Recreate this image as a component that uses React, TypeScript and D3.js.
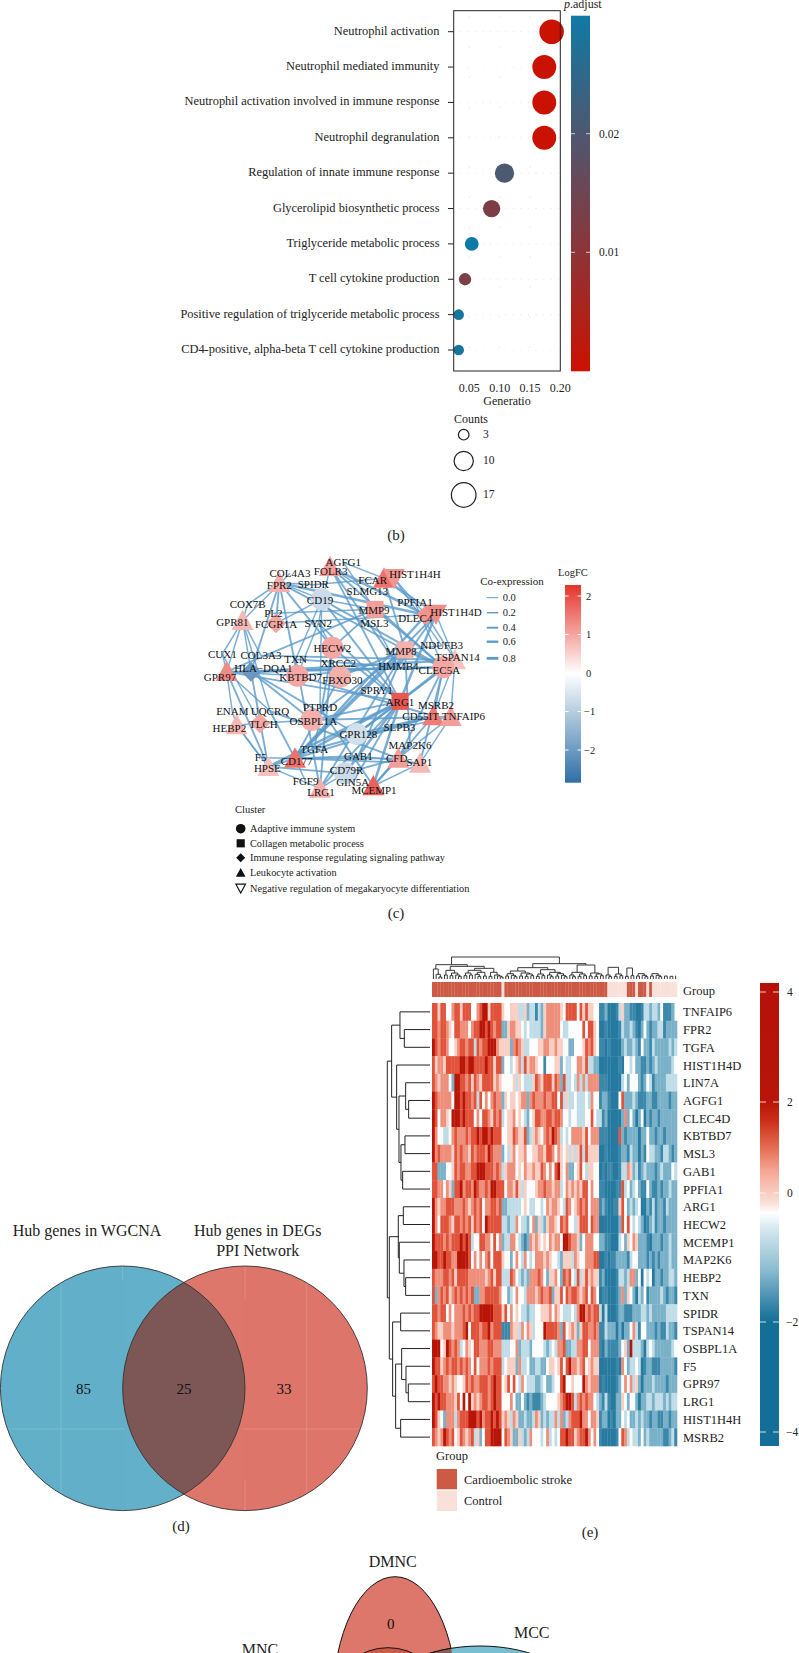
import React from "react";
import * as d3 from "d3";

const SERIF = "'Liberation Serif', serif";
const INK = "#222";

// ---------- (b) GO dot plot ----------
const goTerms = ["Neutrophil activation","Neutrophil mediated immunity","Neutrophil activation involved in immune response","Neutrophil degranulation","Regulation of innate immune response","Glycerolipid biosynthetic process","Triglyceride metabolic process","T cell cytokine production","Positive regulation of triglyceride metabolic process","CD4-positive, alpha-beta T cell cytokine production"];
const goRatio = [0.1857,0.1736,0.1736,0.1736,0.108,0.0868,0.054,0.043,0.0325,0.0325];
const goCounts = [17,16,16,16,10,8,5,4,3,3];
const goPadj = [0.0004,0.0004,0.0004,0.0004,0.0205,0.0125,0.03,0.013,0.0285,0.0285];
const goXTicks = [0.05,0.10,0.15,0.20];
const goPTicks = [0.01,0.02];
const goCountLegend = [3,10,17];

// ---------- (c) network: label, labelX, labelY, nodeX, nodeY, shape, logFC (layout units) ----------
type Nd = [string,number,number,number,number,string,number];
const netNodes: Nd[] = [
["AGFG1",490,157,490,157,"n",0],["FOLR3",452,185,450,170,"t",1.1],["FCAR",578,212,612,205,"t",1.6],["HIST1H4H",705,193,642,205,"v",1.2],
["COL4A3",330,190,330,190,"n",0],["FPR2",298,226,298,218,"t",0.9],["SPIDR",400,224,400,224,"n",0],["SLMG13",562,245,562,245,"n",0],
["CD19",420,270,425,268,"c",-0.7],["MMP9",582,300,585,298,"s",1.1],["COX7B",203,283,203,283,"n",0],["GPR81",157,338,188,332,"t",0.8],
["PL2",280,310,280,310,"n",0],["FCGR1A",288,342,288,340,"d",1.0],["SYN2",415,340,415,340,"n",0],["PPFIA1",705,278,705,278,"n",0],
["DLEC4",706,324,738,315,"d",1.2],["HIST1H4D",828,308,768,312,"v",1.3],["MSL3",583,340,583,340,"n",0],["MMP8",663,423,675,420,"s",0.9],
["NDUFB3",785,407,785,407,"n",0],["TSPAN14",832,443,825,450,"t",0.7],["CLEC5A",778,482,790,472,"c",1.0],["HMMB4",655,470,655,470,"n",0],
["HECW2",457,415,457,413,"c",1.0],["XRCC2",475,461,475,461,"n",0],["CUX1",127,432,127,432,"n",0],["COL3A3",243,437,243,437,"n",0],
["TXN",347,448,347,448,"n",0],["HLA−DQA1",250,475,213,485,"d",-2.0],["GPR97",120,502,140,485,"t",1.3],["KBTBD7",362,503,352,497,"c",1.0],
["FBXO30",487,510,480,500,"c",0.9],["SPRY1",590,540,590,540,"n",0],["ARG1",660,578,660,574,"s",1.9],["MSRB2",768,585,768,585,"n",0],
["CD55IT",722,618,760,618,"t",1.5],["TNFAIP6",850,620,812,620,"t",1.1],["ENAM",157,605,157,605,"n",0],["HEBP2",148,655,170,645,"t",0.8],
["UQCRQ",270,603,270,603,"n",0],["TLCH",250,643,240,640,"d",1.0],["PTPRD",420,593,420,593,"n",0],["OSBPL1A",400,635,395,630,"c",0.9],
["GPR128",535,672,530,672,"c",-0.6],["SLPB3",658,653,658,653,"n",0],["MAP2K6",690,707,690,707,"n",0],["CFD",650,745,655,745,"t",1.1],
["SAP1",718,757,720,760,"t",0.8],["TGFA",403,717,403,717,"n",0],["CD177",350,755,345,745,"t",1.6],["F5",242,743,242,743,"n",0],
["HPSE",262,775,265,770,"t",0.7],["GAB1",535,738,535,738,"n",0],["CD79R",500,780,495,790,"c",-0.7],["GIN5A",518,818,518,818,"n",0],
["FGF9",377,815,377,815,"n",0],["LRG1",423,848,420,835,"t",0.9],["MCEMP1",582,842,580,828,"t",1.8],
];
const edgesThin = "AGFG1-FCAR AGFG1-MMP9 FOLR3-SYN2 FOLR3-SLMG13 FCAR-PPFIA1 HIST1H4H-DLEC4 HIST1H4H-NDUFB3 COL4A3-GPR81 FPR2-COX7B FPR2-SPIDR FPR2-CD19 SPIDR-FCAR CD19-MMP9 COX7B-GPR97 GPR81-HLA GPR81-CUX1 PL2-MMP9 FCGR1A-CD19 FCGR1A-HIST1H4D SYN2-HECW2 SYN2-KBTBD7 PPFIA1-CLEC5A DLEC4-TSPAN14 HIST1H4D-TSPAN14 NDUFB3-MMP8 CUX1-GPR97 CUX1-TLCH COL3A3-GPR81 TXN-CD19 GPR97-KBTBD7 GPR97-UQCRQ ENAM-HEBP2 ENAM-GPR97 HEBP2-HPSE HEBP2-TLCH UQCRQ-GPR81 TLCH-OSBPL1A PTPRD-CD19 F5-HEBP2 F5-CD177 HPSE-LRG1 FGF9-CD177 LRG1-CD79R GAB1-SAP1 SAP1-TNFAIP6 CFD-TNFAIP6 MAP2K6-MCEMP1 MCEMP1-SAP1 SLPB3-TNFAIP6 MSRB2-CLEC5A CD55IT-TSPAN14 TNFAIP6-TSPAN14 CD55IT-MSRB2 MSL3-HMMB4".split(" ");
const edgesMid = "FPR2-FCGR1A FPR2-MMP8 FPR2-KBTBD7 FPR2-HECW2 FPR2-HLA FOLR3-HMMB4 FOLR3-CLEC5A FOLR3-ARG1 FCAR-HIST1H4D FCAR-MMP8 MMP9-CLEC5A MMP9-HECW2 MMP9-GPR97 HIST1H4D-HMMB4 HIST1H4D-CD177 CD19-ARG1 CD19-CLEC5A SYN2-ARG1 HECW2-ARG1 HECW2-LRG1 HECW2-TGFA KBTBD7-CD55IT KBTBD7-HMMB4 FBXO30-MMP8 FBXO30-CD177 GPR97-CLEC5A GPR97-HPSE GPR97-ARG1 HLA-OSBPL1A HLA-HPSE HLA-GPR128 TXN-HMMB4 TXN-LRG1 UQCRQ-CFD UQCRQ-CD177 OSBPL1A-ARG1 OSBPL1A-MMP8 OSBPL1A-TNFAIP6 PTPRD-MCEMP1 GPR128-TSPAN14 GPR128-CD55IT CFD-CLEC5A SAP1-CLEC5A MAP2K6-MMP8 CD177-CFD CD177-SAP1 CD177-GAB1 HPSE-CD55IT LRG1-MMP8 LRG1-ARG1 GIN5A-ARG1 CD79R-CFD CD79R-HPSE TGFA-CD55IT GAB1-MMP8 MCEMP1-CD55IT MCEMP1-CFD TSPAN14-COL3A3".split(" ");
const edgesThick = "HLA-CLEC5A CD177-ARG1 HPSE-ARG1 CD177-MMP8 CD177-DLEC4 MMP8-CLEC5A FPR2-DLEC4 ARG1-CLEC5A HIST1H4D-ARG1 FOLR3-DLEC4 MCEMP1-ARG1 CD79R-ARG1 GPR128-ARG1 HLA-TSPAN14".split(" ");
const coexprTicks = [0,0.2,0.4,0.6,0.8];
const logfcTicks = [2,1,0,-1,-2];
const clusterNames = ["Adaptive immune system","Collagen metabolic process","Immune response regulating signaling pathway","Leukocyte activation","Negative regulation of megakaryocyte differentiation"];
const clusterShapes = ["c","s","d","t","v"];

// ---------- (d) venn ----------
const vennCounts = [85,25,33];

// ---------- (e) heatmap ----------
const geneNames = ["TNFAIP6","FPR2","TGFA","HIST1H4D","LIN7A","AGFG1","CLEC4D","KBTBD7","MSL3","GAB1","PPFIA1","ARG1","HECW2","MCEMP1","MAP2K6","HEBP2","TXN","SPIDR","TSPAN14","OSBPL1A","F5","GPR97","LRG1","HIST1H4H","MSRB2"];
// one digit per sample: 0 = darkest blue ... 5 = white ... 9 = darkest red
const heatRows = [
"8868855788688855789968888 6556664463442436777 7765888858686655 2231112463 32 2 1 1 2 4 4 3 4 4 3 5 2 2 2 3",
"8878876588777578899898788 3367766545444436777 7754455555 8 5 8 8 6 5 1121111243 3 4 3 2 1 3 5 3 2 3 3 4 4 2 3 3 3 3",
"9878875567887884878899976 6663787644555667766 7665533555 6 8 7 8 6 5 2212111134 3 3 4 3 2 5 3 3 2 4 3 3 3 3 3 4 3 4",
"8677688888998998888988688 3554567486776552555 6635 4 4 5 5 7 7 6 8 4 4 3 3 1111111215 5 4 5 3 3 2 2 3 2 3 4 3 3 3 3 3 4 5",
"8767775399887868768888676 5555646544468 7 6 8 8 8 6 8 7 3 8 4 4 5 4 7 4 7 4 7 7 7 7 2221111145 3 5 5 5 3 2 3 5 4 2 3 3 3 3 4 4 4 4",
"9877777599898878485757877 3656656773787778778 8584644544 4 5 4 7 5 5 2332111583 3 3 4 3 2 2 2 3 3 2 2 3 3 3 3 2 3 3",
"9857765999898885758876878 4566756543568877887 8875545544 4 5 5 8 5 4 4231111137 3 5 3 1 3 5 1 3 2 3 3 2 3 3 3 3 3 3",
"9755445787778788989989888 5566876683467657879 8745457777 6 8 5 7 7 7 2221111832 3 3 3 3 1 3 3 5 3 3 2 3 3 2 3 3 3 3",
"9787777687877687888798777 3546756675566776887 5765646468 4 8 6 6 6 6 1121111233 2 4 3 3 1 3 2 5 4 4 3 3 2 4 4 3 2 3",
"8833355687887788999888787 4677756576676687575 8965733568 5 4 6 6 5 5 1212211244 7 6 3 4 2 3 4 3 3 3 2 3 4 3 3 3 5 4",
"8877576388978879877879988 8577686465556778776 7745767676 8 8 5 7 5 5 2211112284 5 3 4 5 3 2 2 5 3 2 2 3 2 3 3 4 3 3",
"9767788877787678785778878 3344444565445545767 7654875678 7 8 5 7 7 7 2321122685 3 4 3 4 5 1 1 3 2 4 2 3 3 2 4 3 3 3",
"9758887688787868785988888 4434475443573643677 6587855468 8 8 5 8 7 7 1111111385 8 5 4 5 4 3 1 2 3 4 2 3 3 2 3 3 3 3",
"9888787888989845588775857 3447754323767656576 7759987763 5 7 7 7 5 5 3322111453 6 5 7 6 3 3 3 2 1 3 3 3 2 3 3 4 3 3",
"9988988779999857575785888 6553575475457776765 5436664765 5 7 7 7 8 8 1121223333 2 4 5 5 3 3 3 2 3 2 3 2 3 3 3 4 3 3",
"8777887868888777777678688 4448754343777875366 7538785484 6 8 6 7 6 6 2311112443 4 7 7 3 5 1 5 4 5 1 3 3 2 3 3 4 4 3",
"8378786787878783377888887 5534575547776787783 6685878876 7 8 5 8 7 5 1221112373 6 5 3 1 4 3 5 2 3 3 3 3 4 3 2 3 3 2",
"8878857577787878899999888 6857565443445566675 7654445479 9 7 8 7 8 8 4141112332 2 2 3 3 3 4 4 3 4 3 3 3 3 3 4 4 4 4",
"8766777677789588878897888 2227664757645559888 8738567636 8 8 7 7 8 7 2243331313 3 5 7 4 2 5 5 3 3 3 2 3 2 2 4 3 3 2",
"9995698787457658877788777 4445573444355554345 4778334477 8 8 5 7 7 7 2132222356 3 9 4 4 4 3 1 4 5 4 3 3 3 3 3 3 4 5",
"9886787887878758577787888 4566637445334433566 5685897767 8 5 6 7 6 6 1111112175 3 4 4 5 4 1 2 3 3 2 2 2 3 3 3 3 3 2",
"8988776765568787788878988 5685854754443345334 5589556555 9 7 6 7 7 7 1211112357 5 7 4 6 3 1 3 3 3 4 3 3 3 3 2 3 3 3",
"9898877768595967678878988 5557533532322234555 5678998478 7 8 7 7 5 4 3242113365 3 5 5 3 1 3 3 4 4 3 4 4 4 3 4 3 4 4",
"9865377747888999897889898 6764763343347634344 7473478889 7 7 5 7 7 6 2331213354 5 3 3 4 3 4 3 3 2 3 3 2 2 3 3 2 3 3",
"8767987856876784635889999 5876336434755545745 4588988678 8 9 7 5 7 5 2111112587 4 5 4 4 3 5 3 4 3 3 3 3 3 2 2 3 4 2",
].map(s => s.replace(/\s/g, ""));
const heatLevels = [-3,-2.5,-2,-1.3,-0.6,0,0.5,1,1.6,2.5];
const groupFlags = "CCCCCCCCCCCCCCCCCCCCCCCCCKCCCCCCCCCCCCCCCCCCCCCCCCCCCCCCCCCCCCCKKKKKKKCCCKCCCKCKKKKKKKKKKK".slice(0,88);
const heatTicks = [4,2,0,-2,-4];
const groupNames = ["Cardioembolic stroke","Control"];
const rowTree = "(((. (. . 77) 90)(. ((. (. . 64) 73)((. . 75)(. . 82) 87) 93) 100) 115)(((. . 80)(. (. (. . 73) 78) 92) 95)((. . 88)((. (. (. . 65) 72) 85)(. . 88) 103) 112) 122) 128)";
const S2 = "(. . 9)", S3 = "(. (. . 7) 12)", S4 = "((. . 8)(. . 10) 15)", S5 = "((. . 9)(. (. . 7) 11) 16)";
const colTree = `(((( . (. (. . 6) 14) 30)(((. . 12)((. . 10)(. (. . 8) 12) 18) 26)((((. . 10)(. . 12) 18)((. (. . 8) 14)(. . 9) 20) 26)((. . 8)(. (. (. . 6) 9) 12) 20) 32) 38) 43)(((${S5}(${S2}${S4} 18) 24)(${S4}(${S3}${S5} 20) 28) 34)((${S3}${S4} 20)(${S2}${S4} 18) 42) 46) 66)((${S3}${S4} 35)(((. . 8)(. . 10) 33)(${S5}(${S5}(${S2}${S4} 18) 22) 30) 43) 50) 75) 126)`;

// ---------- bottom venn ----------
const bottomLabels = ["DMNC","MCC","MNC"];
const bottomCount = 0;

type T = { h: number; children?: T[] };
function parseTree(src: string): T {
  const toks = src.match(/\(|\)|\.|\d+/g) as string[];
  let i = 0;
  const node = (): T => {
    const t = toks[i++];
    if (t === ".") return { h: 0 };
    const kids: T[] = [];
    while (toks[i] === "(" || toks[i] === ".") kids.push(node());
    const h = +toks[i++];
    i++;
    return { h, children: kids };
  };
  return node();
}
function treeSegments(src: string, leafPos: (i: number) => number, hPos: (h: number) => number, horizontal: boolean) {
  const root = d3.hierarchy<T>(parseTree(src));
  let k = 0;
  const path = d3.path();
  root.eachAfter((n: any) => {
    if (!n.children) { n.p = leafPos(k++); return; }
    n.p = d3.mean(n.children, (c: any) => c.p);
    const y = hPos(n.data.h);
    n.children.forEach((c: any, idx: number) => {
      const yc = hPos(c.data.h);
      if (horizontal) { path.moveTo(yc, c.p); path.lineTo(y, c.p); }
      else { path.moveTo(c.p, yc); path.lineTo(c.p, y); }
    });
    const [a, b] = [n.children[0].p, n.children[n.children.length - 1].p];
    if (horizontal) { path.moveTo(y, a); path.lineTo(y, b); }
    else { path.moveTo(a, y); path.lineTo(b, y); }
  });
  return path.toString();
}

const Txt = (p: any) => <text fontFamily={SERIF} fill={INK} {...p} />;

function Glyph({ shape, x, y, r, fill, stroke, sw }: any) {
  const common = { fill, stroke: stroke || "none", strokeWidth: sw || 0 };
  if (shape === "c") return <circle cx={x} cy={y} r={r} {...common} />;
  if (shape === "s") return <rect x={x - r * 0.85} y={y - r * 0.85} width={r * 1.7} height={r * 1.7} {...common} />;
  if (shape === "d") return <path d={`M${x},${y - r}L${x + r},${y}L${x},${y + r}L${x - r},${y}Z`} {...common} />;
  if (shape === "t") return <path d={`M${x},${y - r}L${x + r},${y + r * 0.85}L${x - r},${y + r * 0.85}Z`} {...common} />;
  if (shape === "v") return <path d={`M${x - r},${y - r * 0.85}L${x + r},${y - r * 0.85}L${x},${y + r}Z`} {...common} />;
  return null;
}

export default function App() {
  // dot plot scales
  const gx = d3.scaleLinear().domain([0.05, 0.2]).range([469.3, 560.3]);
  const gy = d3.scalePoint<string>().domain(goTerms).range([31.7, 350]);
  const gr = d3.scalePow().exponent(0.4).domain([3, 17]).range([5.3, 12.3]);
  const gc = d3.scaleLinear<string>().domain([0, 0.03]).range(["#cc1100", "#0f7aa6"]);
  const gpY = d3.scaleLinear().domain([0.01, 0.02]).range([252.3, 133.7]);
  const gridX = d3.range(0.035, 0.2, 0.0125);
  const gridYs = goTerms.map(t => gy(t) as number);

  // network scales
  const nx = d3.scaleLinear().domain([0, 900]).range([180, 480]);
  const ny = d3.scaleLinear().domain([0, 900]).range([510, 810]);
  const fcY = d3.scaleLinear().domain([2, -2]).range([596, 750]);
  const fcC = d3.scaleLinear<string>().domain([-2.8, 0, 2.3]).range(["#2e6fa7", "#ffffff", "#e5342b"]);
  const ew = d3.scaleLinear().domain([0, 0.8]).range([1, 2.8]);
  const byName = new Map(netNodes.map(n => [n[0].split("−")[0], n]));
  const edgeSets: [string[], number][] = [[edgesThin, 0.2], [edgesMid, 0.4], [edgesThick, 0.7]];

  // heatmap scales
  const hx = d3.scaleBand<number>().domain(d3.range(88)).range([432, 677]);
  const hy = d3.scaleBand<string>().domain(geneNames).range([1003, 1446]);
  const hc = d3.scaleLinear<string>().domain([-3, -2, -1.3, -0.6, 0, 0.5, 1, 1.6, 2.5])
    .range(["#0f6a92", "#3c88ab", "#79b1c9", "#bfdce7", "#fdfdfd", "#f9cfc4", "#ee8f7b", "#e0523a", "#b81508"]);
  const hlY = d3.scaleLinear().domain([4, 2, 0, -2, -4]).range([992, 1102, 1193, 1322, 1432]);
  const rowD = treeSegments(rowTree, i => (hy(geneNames[i]) as number) + hy.bandwidth() / 2, d3.scaleLinear().domain([0, 128]).range([430, 387.3]), true);
  const colD = treeSegments(colTree, i => (hx(i) as number) + hx.bandwidth() / 2, d3.scaleLinear().domain([0, 126]).range([979, 937]), false);

  const vennX = [122.7, 245];
  const vennY = 1388.3, vennR = 122.3;

  return (
    <svg width={799} height={1653} viewBox="0 0 799 1653" style={{ position: "absolute", left: 0, top: 0, background: "#fff" }}>
      <defs>
        <linearGradient id="gp" x1="0" y1="1" x2="0" y2="0">
          <stop offset="0" stopColor={gc(0)} /><stop offset="1" stopColor={gc(0.03)} />
        </linearGradient>
        <linearGradient id="fc" x1="0" y1="1" x2="0" y2="0">
          <stop offset="0" stopColor="#2e6fa7" />
          <stop offset={(782.7 - 673.5) / 197.7} stopColor="#ffffff" />
          <stop offset="1" stopColor="#e5342b" />
        </linearGradient>
        <linearGradient id="hl" x1="0" y1="0" x2="0" y2="1">
          {[[983,"#b51108"],[1102,"#b81508"],[1120,"#cc2c17"],[1147,"#e56a50"],[1170,"#f3a491"],[1203,"#fbe0d8"],[1213,"#ffffff"],[1228,"#d6e9f0"],[1270,"#8bbbd0"],[1303,"#3c88ab"],[1322,"#136f97"],[1446,"#136f97"]].map(([y, c]: any) =>
            <stop key={y} offset={(y - 983) / 463} stopColor={c} />)}
        </linearGradient>
        <clipPath id="vc1"><circle cx={vennX[0]} cy={vennY} r={vennR} /></clipPath>
        <clipPath id="vc2"><circle cx={vennX[1]} cy={vennY} r={vennR} /></clipPath>
      </defs>

      {/* (b) dot plot */}
      <rect x={453.7} y={10.7} width={106.6} height={360.3} fill="#fff" />
      {gridYs.map(y => gridX.map(x => <circle key={y + "_" + x} cx={gx(x)} cy={y + 0} r={0.6} fill="#e8e8e8" />))}
      {gx.ticks(3).concat(goXTicks).map((t, i) => d3.range(12).map(j => <circle key={i + "g" + j} cx={gx(t)} cy={17 + j * 30} r={0.6} fill="#e8e8e8" />))}
      {goTerms.map((t, i) => (
        <g key={t}>
          <circle cx={gx(goRatio[i])} cy={gy(t)} r={gr(goCounts[i])} fill={gc(goPadj[i])} />
          <line x1={448} x2={453.7} y1={gy(t)} y2={gy(t)} stroke={INK} strokeWidth={1} />
          <Txt x={439.5} y={(gy(t) as number) + 3} textAnchor="end" fontSize={12.4}>{t}</Txt>
        </g>
      ))}
      <rect x={453.7} y={10.7} width={106.6} height={360.3} fill="none" stroke={INK} strokeWidth={1} />
      {goXTicks.map(t => <Txt key={t} x={gx(t)} y={392} textAnchor="middle" fontSize={12}>{t.toFixed(2)}</Txt>)}
      <Txt x={507} y={405} textAnchor="middle" fontSize={12}>Generatio</Txt>
      <Txt x={454} y={423} fontSize={12}>Counts</Txt>
      {goCountLegend.map((c, i) => {
        const y = [434.7, 461, 495][i];
        return <g key={c}>
          <circle cx={463.7} cy={y} r={gr(c)} fill="none" stroke={INK} strokeWidth={1.2} />
          <Txt x={483} y={y + 3} fontSize={11.5}>{c}</Txt>
        </g>;
      })}
      <Txt x={564} y={8} fontSize={12}><tspan fontStyle="italic">p</tspan>.adjust</Txt>
      <rect x={571} y={15.7} width={19} height={355.6} fill="url(#gp)" />
      {goPTicks.map(t => <g key={t}>
        <line x1={571} x2={575} y1={gpY(t)} y2={gpY(t)} stroke="#fff" strokeOpacity={0.7} />
        <line x1={586} x2={590} y1={gpY(t)} y2={gpY(t)} stroke="#fff" strokeOpacity={0.7} />
        <Txt x={599} y={gpY(t) + 4} fontSize={11.5}>{t.toFixed(2)}</Txt>
      </g>)}
      <Txt x={396} y={540} textAnchor="middle" fontSize={15}>(b)</Txt>

      {/* (c) network */}
      {edgeSets.map(([list, w]) => list.map(e => {
        const [a, b] = e.split("-").map(k => byName.get(k) as Nd);
        if (!a || !b) return null;
        return <line key={e} x1={nx(a[3])} y1={ny(a[4])} x2={nx(b[3])} y2={ny(b[4])} stroke="#5a9ac9" strokeOpacity={0.8} strokeWidth={ew(w)} />;
      }))}
      {netNodes.map(n => <Glyph key={n[0]} shape={n[5]} x={nx(n[3])} y={ny(n[4])} r={n[5] === "d" ? 10 : n[5] === "s" ? 10 : 11} fill={fcC(n[6])} />)}
      {netNodes.map(n => <text key={n[0]} x={nx(n[1])} y={ny(n[2]) + 3.5} textAnchor="middle" fontFamily={SERIF} fontSize={11} fill="#111">{n[0]}</text>)}
      <Txt x={512} y={585} textAnchor="middle" fontSize={11}>Co-expression</Txt>
      {coexprTicks.map((t, i) => {
        const y = [597.7, 612.7, 627.7, 641.7, 658.3][i];
        return <g key={t}>
          <line x1={486.7} x2={498.3} y1={y} y2={y} stroke="#5a9ac9" strokeWidth={ew(t)} />
          <Txt x={502.7} y={y + 3.5} fontSize={10.5}>{t.toFixed(1)}</Txt>
        </g>;
      })}
      <Txt x={558} y={575.7} fontSize={10.5}>LogFC</Txt>
      <rect x={565} y={585} width={16} height={197.7} fill="url(#fc)" />
      {logfcTicks.map(t => <g key={t}>
        <line x1={565} x2={568.5} y1={fcY(t)} y2={fcY(t)} stroke="#fff" />
        <line x1={577.5} x2={581} y1={fcY(t)} y2={fcY(t)} stroke="#fff" />
        <Txt x={t < 0 ? 584 : 586} y={fcY(t) + 3.5} fontSize={10.5}>{t < 0 ? "−" + -t : t}</Txt>
      </g>)}
      <Txt x={235} y={813} fontSize={10.5}>Cluster</Txt>
      {clusterNames.map((c, i) => {
        const y = [828.7, 843.3, 857.7, 872.7, 888.3][i];
        return <g key={c}>
          <Glyph shape={clusterShapes[i]} x={240.7} y={y} r={i === 2 ? 4.5 : 4.8} fill={i === 4 ? "#fff" : "#111"} stroke={i === 4 ? "#111" : undefined} sw={1.2} />
          <Txt x={250} y={y + 3.5} fontSize={10.3}>{c}</Txt>
        </g>;
      })}
      <Txt x={396} y={918} textAnchor="middle" fontSize={15}>(c)</Txt>

      {/* (d) venn */}
      <Txt x={87} y={1236} textAnchor="middle" fontSize={16}>Hub genes in WGCNA</Txt>
      <Txt x={257.7} y={1236} textAnchor="middle" fontSize={16}>Hub genes in DEGs</Txt>
      <Txt x={257.7} y={1256} textAnchor="middle" fontSize={16}>PPI Network</Txt>
      <circle cx={vennX[0]} cy={vennY} r={vennR} fill="#62b0c9" />
      <circle cx={vennX[1]} cy={vennY} r={vennR} fill="#dd766b" />
      <g clipPath="url(#vc1)"><circle cx={vennX[1]} cy={vennY} r={vennR} fill="#7d5755" /></g>
      <g clipPath="url(#vc1)" stroke="#8cc5d8" strokeWidth={0.8} opacity={0.7}>
        <line x1={61} x2={61} y1={1260} y2={1520} /><line x1={0} x2={125} y1={1429} y2={1429} /><line x1={122.7} x2={122.7} y1={1260} y2={1280} />
      </g>
      <g clipPath="url(#vc2)" stroke="#ea9a90" strokeWidth={0.8} opacity={0.7}>
        <line x1={245} x2={245} y1={1260} y2={1300} /><line x1={245} x2={245} y1={1480} y2={1520} />
        <line x1={306.7} x2={306.7} y1={1260} y2={1520} /><line x1={243} x2={370} y1={1429} y2={1429} />
      </g>
      <circle cx={vennX[0]} cy={vennY} r={vennR} fill="none" stroke="#333" strokeWidth={0.9} />
      <circle cx={vennX[1]} cy={vennY} r={vennR} fill="none" stroke="#333" strokeWidth={0.9} />
      {vennCounts.map((c, i) => <text key={c} x={[83.5, 184, 284][i]} y={1394} textAnchor="middle" fontFamily={SERIF} fontSize={15} fill="#111">{c}</text>)}
      <Txt x={181} y={1531} textAnchor="middle" fontSize={15}>(d)</Txt>

      {/* (e) heatmap */}
      <path d={colD} fill="none" stroke={INK} strokeWidth={0.9} />
      <path d={rowD} fill="none" stroke={INK} strokeWidth={1} />
      {d3.range(88).map(i => <rect key={i} x={hx(i)} y={982} width={hx.bandwidth() + 0.2} height={15}
        fill={groupFlags[i] === "C" ? "#cd5a45" : "#f9e0d9"} />)}
      <Txt x={683} y={995} fontSize={12.5}>Group</Txt>
      {heatRows.map((row, r) => row.split("").map((d, c) => (
        <rect key={r + "-" + c} x={hx(c)} y={hy(geneNames[r])} width={hx.bandwidth() + 0.3} height={hy.bandwidth() + 0.3}
          fill={hc(heatLevels[+d])} />
      )))}
      {geneNames.map(g => <Txt key={g} x={683} y={(hy(g) as number) + hy.bandwidth() / 2 + 4.5} fontSize={12.5}>{g}</Txt>)}
      <rect x={760} y={983} width={19} height={463} fill="url(#hl)" />
      {heatTicks.map(t => <g key={t}>
        <line x1={760} x2={766} y1={hlY(t)} y2={hlY(t)} stroke="#fff" strokeOpacity={0.8} />
        <line x1={773} x2={779} y1={hlY(t)} y2={hlY(t)} stroke="#fff" strokeOpacity={0.8} />
        <Txt x={t < 0 ? 786 : 787} y={hlY(t) + 4} fontSize={11.5}>{t < 0 ? "−" + -t : t}</Txt>
      </g>)}
      <Txt x={436} y={1460} fontSize={12.5}>Group</Txt>
      {groupNames.map((g, i) => <g key={g}>
        <rect x={436.7} y={[1469, 1490.7][i]} width={20.3} height={20.3} fill={i === 0 ? "#cd5a45" : "#f9e0d9"} />
        <Txt x={464} y={[1484, 1505][i]} fontSize={12.5}>{g}</Txt>
      </g>)}
      <Txt x={590} y={1537} textAnchor="middle" fontSize={15}>(e)</Txt>

      {/* bottom venn (cut by the page edge) */}
      <ellipse cx={395} cy={1701.7} rx={62} ry={125} fill="#dd766b" stroke="#111" strokeWidth={1} />
      <ellipse cx={480} cy={1700} rx={100} ry={54} fill="#77c0d2" stroke="#111" strokeWidth={1} />
      <clipPath id="bv"><ellipse cx={395} cy={1701.7} rx={62} ry={125} /></clipPath>
      <g clipPath="url(#bv)"><ellipse cx={480} cy={1700} rx={100} ry={54} fill="#8a5c5c" stroke="#111" /></g>
      <ellipse cx={388} cy={1689.7} rx={50} ry={42} fill="#ce5a4a" stroke="#111" strokeWidth={1} />
      <text x={390.7} y={1629} textAnchor="middle" fontFamily={SERIF} fontSize={15} fill="#111">{bottomCount}</text>
      <Txt x={392.7} y={1566.7} textAnchor="middle" fontSize={16}>{bottomLabels[0]}</Txt>
      <Txt x={531.7} y={1637.7} textAnchor="middle" fontSize={16}>{bottomLabels[1]}</Txt>
      <Txt x={260} y={1655} textAnchor="middle" fontSize={16}>{bottomLabels[2]}</Txt>
    </svg>
  );
}
